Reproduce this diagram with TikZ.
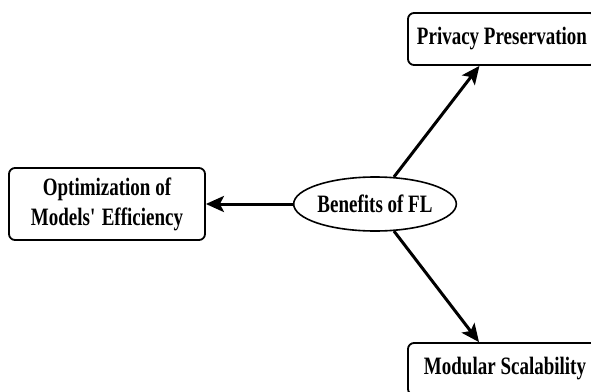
\documentclass[tikz,border=0pt]{standalone}
\usepackage{fontspec}
\setmainfont{Liberation Serif}[FakeStretch=0.76]
\usetikzlibrary{shapes.geometric,arrows.meta}
\tikzset{
  box/.style={draw=black, line width=1.8pt, rounded corners=6pt, align=center,
    inner sep=0pt, font=\fontsize{25}{30}\selectfont\bfseries},
  hub/.style={draw=black, line width=1.6pt, ellipse, inner sep=0pt,
    font=\fontsize{25}{30}\selectfont\bfseries},
  link/.style={line width=3pt, -{Stealth[length=18pt,width=16pt,inset=4pt]}}
}
\begin{document}
\begin{tikzpicture}[x=1pt,y=-1pt]
  \useasboundingbox (0,0) rectangle (591,391);
  \clip (0,0) rectangle (591,391);
  \fill[white] (0,0) rectangle (591,391);

  % central idea
  \node[hub, minimum width=144pt, minimum height=54pt] (benefits) at (375,204) {Benefits of FL};

  % the three benefits
  \node[box, minimum width=188pt, minimum height=52pt] (priv) at (502,39) {Privacy Preservation};
  \node[box, minimum width=196pt, minimum height=72pt] (opt) at (107,204) {Optimization of\\Models\textquotesingle{} Efficiency};
  \node[box, minimum width=194pt, minimum height=52pt] (mod) at (505,369) {Modular Scalability};

  % connectors
  \draw[link] (benefits.west) -- (opt.east);
  \draw[link] (benefits.55) -- (priv.230);
  \draw[link] (benefits.305) -- (mod.134);
\end{tikzpicture}
\end{document}
